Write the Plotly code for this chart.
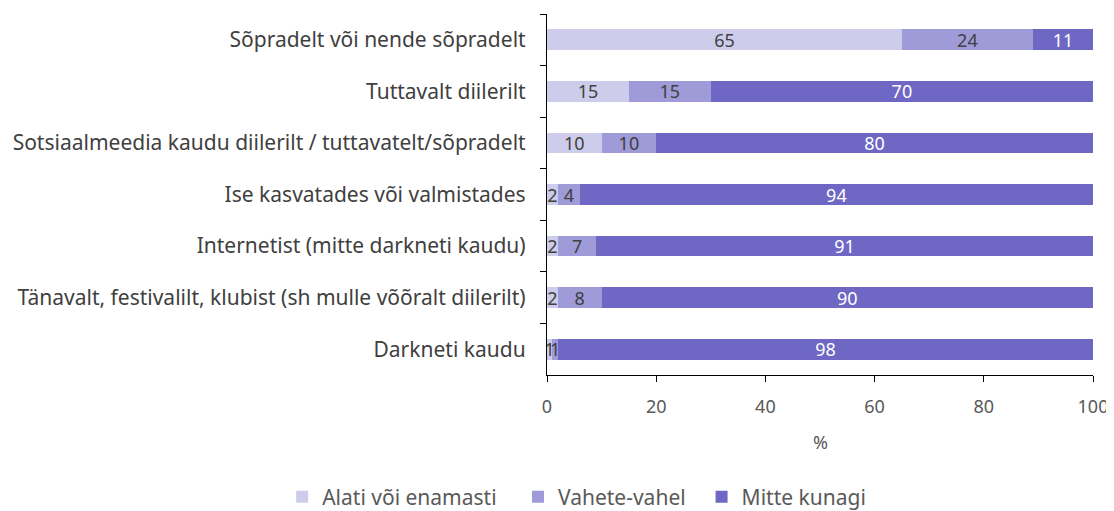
import plotly.graph_objects as go

categories = [
    "Sõpradelt või nende sõpradelt",
    "Tuttavalt diilerilt",
    "Sotsiaalmeedia kaudu diilerilt / tuttavatelt/sõpradelt",
    "Ise kasvatades või valmistades",
    "Internetist (mitte darkneti kaudu)",
    "Tänavalt, festivalilt, klubist (sh mulle võõralt diilerilt)",
    "Darkneti kaudu",
]
series_names = ["Alati või enamasti", "Vahete-vahel", "Mitte kunagi"]
alati = [65, 15, 10, 2, 2, 2, 1]
vahel = [24, 15, 10, 4, 7, 8, 1]
mitte = [11, 70, 80, 94, 91, 90, 98]
x_ticks = [0, 20, 40, 60, 80, 100]
x_title = "%"

colors = ["#CECCEB", "#9F9AD8", "#6F67C4"]
text_colors = ["#404040", "#404040", "#FFFFFF"]
FONT = "Noto Sans, Open Sans, sans-serif"
PADS = ["\u00a0" * 3, "\u00a0" * 2, ""]

fig = go.Figure()
for name, vals, c, tc, pad in zip(series_names, [alati, vahel, mitte], colors, text_colors, PADS):
    fig.add_trace(go.Bar(
        y=categories, x=vals, name=name + pad, orientation="h",
        marker=dict(color=c, line=dict(width=0)),
        text=[str(v) for v in vals], textposition="inside",
        insidetextanchor="middle", textangle=0,
        textfont=dict(color=tc, size=18, family=FONT),
        cliponaxis=False,
    ))

fig.add_annotation(text=x_title, xref="paper", yref="paper", x=0.5, y=-0.1856,
                   xanchor="center", yanchor="middle", showarrow=False,
                   font=dict(size=18, color="#595959", family=FONT))

fig.update_layout(
    barmode="stack",
    bargap=0.6,
    width=1106, height=503,
    margin=dict(l=539, r=21, t=6, b=136, autoexpand=False),
    plot_bgcolor="white", paper_bgcolor="white",
    font=dict(family=FONT, size=17, color="#404040"),
    uniformtext=dict(minsize=18, mode="show"),
    showlegend=True,
    legend=dict(orientation="h", x=-0.485, xanchor="left", xref="paper",
                y=-0.338, yref="paper", yanchor="middle",
                font=dict(size=21, color="#595959"),
                itemwidth=30, traceorder="normal"),
    xaxis=dict(range=[0, 100], tickvals=x_ticks, showgrid=False, zeroline=False,
               showline=True, linecolor="black", linewidth=1.3,
               ticks="outside", ticklen=6, tickcolor="black",
               tickfont=dict(size=18, color="#595959"), ticklabelstandoff=9,
               ticklabeloverflow="allow", automargin=False),
    yaxis=dict(categoryorder="array", categoryarray=categories, autorange="reversed",
               showline=True, linecolor="black", linewidth=1.3, showgrid=False,
               ticks="outside", ticklen=6, tickcolor="black", tickson="boundaries",
               tickfont=dict(size=21, color="#404040"), ticklabelstandoff=16,
               automargin=False),
)

fig.write_html("out.html")
